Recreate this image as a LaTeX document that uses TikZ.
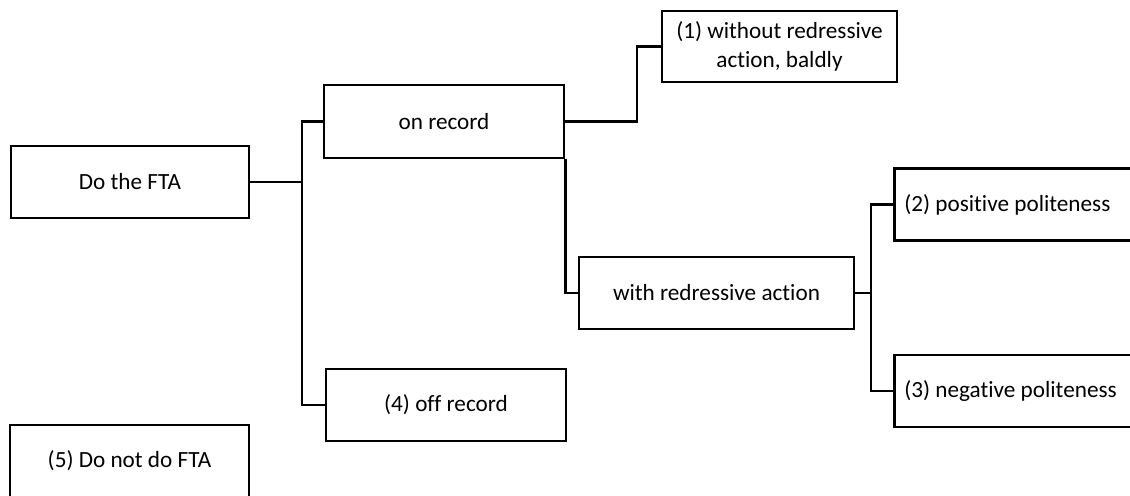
\documentclass[tikz,border=0pt]{standalone}
\usepackage{fontspec}
\setmainfont{Carlito}[RawFeature=-liga]
\begin{document}
\begin{tikzpicture}[x=0.025cm, y=-0.025cm,
    box/.style={draw, line width=1.9pt, minimum height=1.8cm, inner sep=0pt,
                font=\fontsize{16.5}{21}\selectfont, align=center},
    openbox/.style={box, anchor=west, text width=7cm, align=flush left, inner xsep=0.25cm},
    link/.style={line width=2pt}]
    \clip (0,0) rectangle (1130,495);

    % Left column
    \node[box, minimum width=5.95cm] (do) at (130,182) {Do the FTA};
    \node[box, minimum width=5.975cm] (notdo) at (129.5,461) {(5) Do not do FTA};

    % Middle column
    \node[box, minimum width=6cm, minimum height=1.825cm] (onrec) at (444,121.5) {on record};
    \node[box, minimum width=6cm] (offrec) at (446,405) {(4) off record};
    \node[box, minimum width=5.875cm, minimum height=1.775cm] (bald) at (779.5,46.5)
        {(1) without redressive\\action, baldly};
    \node[box, minimum width=6.875cm] (redress) at (716.5,293) {with redressive action};

    % Right column
    \node[openbox] (pos) at (893,204.5) {(2) positive politeness};
    \node[openbox] (neg) at (893,391) {(3) negative politeness};

    % Connectors
    \coordinate (j1) at (302,182);
    \coordinate (j2) at (637,121.5);
    \coordinate (j3) at (871,293);
    \draw[link] (do.east) -- (j1);
    \draw[link] (onrec.west) -| (j1) |- (offrec.west);
    \draw[link] (onrec.east) -- (j2) |- (bald.west);
    \draw[link] (onrec.south east) |- (redress.west);
    \draw[link] (redress.east) -- (j3);
    \draw[link] (pos.west) -| (j3) |- (neg.west);
\end{tikzpicture}
\end{document}
